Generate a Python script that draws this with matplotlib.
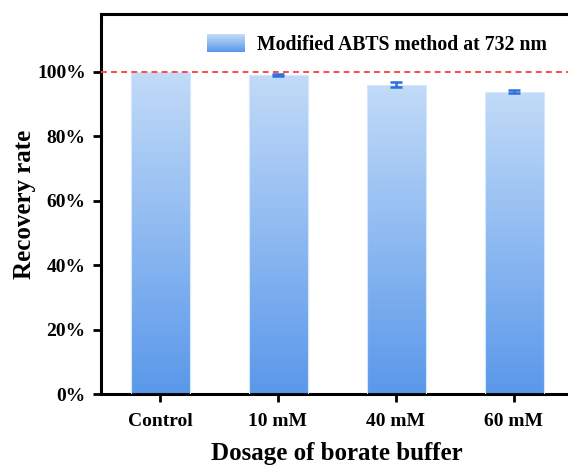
import numpy as np
import matplotlib
matplotlib.use("Agg")
import matplotlib.pyplot as plt
from matplotlib.colors import LinearSegmentedColormap
from matplotlib.patches import Rectangle
from matplotlib.legend_handler import HandlerBase

categories = ["Control", "10 mM", "40 mM", "60 mM"]
recovery = [100.0, 99.1, 96.0, 93.9]
errors = [0.0, 0.3, 0.8, 0.5]
yticks = [0, 20, 40, 60, 80, 100]
ytick_labels = ["0%", "20%", "40%", "60%", "80%", "100%"]
series_label = "Modified ABTS method at 732 nm"

top_color = "#C2DBF8"
bottom_color = "#5A98EA"
cmap = LinearSegmentedColormap.from_list("grad", [bottom_color, top_color])

plt.rcParams["font.family"] = ["Liberation Serif", "DejaVu Serif"]
plt.rcParams["font.weight"] = "bold"

fig = plt.figure(figsize=(5.68, 4.65), dpi=100)
ax = fig.add_axes([101/568, 71/465, 472/568, 380/465])

x = np.arange(len(categories))
width = 0.5
bars = ax.bar(x, recovery, width=width, facecolor="none", edgecolor="#D6E7FB",
              linewidth=0.8, zorder=3)
grad = np.linspace(0, 1, 256).reshape(-1, 1)
for b in bars:
    x0, y0 = b.get_x(), b.get_y()
    w, h = b.get_width(), b.get_height()
    im = ax.imshow(grad, cmap=cmap, origin="lower", aspect="auto",
                   extent=[x0, x0 + w, y0, y0 + h], zorder=2)
    im.set_clip_path(b)

ax.errorbar(x[1:], recovery[1:], yerr=errors[1:], fmt="none", ecolor="#2A6FDB",
            elinewidth=1.8, capsize=4, capthick=1.8, zorder=4)

ax.axhline(100, color="#FF4A4A", linestyle=(0, (3, 2.2)), linewidth=1.4, zorder=5)

ax.set_xlim(-0.5, 3.5)
ax.set_ylim(0, 118)
ax.set_yticks(yticks)
ax.set_yticklabels(ytick_labels)
ax.set_xticks(x)
ax.set_xticklabels(categories)

for s in ["left", "bottom", "top", "right"]:
    ax.spines[s].set_linewidth(2.2)
ax.tick_params(axis="both", direction="out", length=6, width=2, labelsize=14, pad=5)
for lab in ax.get_xticklabels() + ax.get_yticklabels():
    lab.set_fontweight("bold")
ax.tick_params(axis="x", pad=8)

ax.set_xlabel("Dosage of borate buffer", fontsize=18, fontweight="bold", labelpad=8)
ax.set_ylabel("Recovery rate", fontsize=18, fontweight="bold", labelpad=1)


class GradientHandler(HandlerBase):
    def create_artists(self, legend, orig_handle, xdescent, ydescent, width, height,
                       fontsize, trans):
        n = 40
        arts = []
        for i in range(n):
            frac = i / (n - 1)
            r = Rectangle((-xdescent, -ydescent + height * i / n), width, height / n + 0.3,
                          facecolor=cmap(frac), edgecolor="none", transform=trans)
            arts.append(r)
        return arts


proxy = Rectangle((0, 0), 1, 1)
ax.legend([proxy], [series_label], handler_map={Rectangle: GradientHandler()},
          loc="upper left", bbox_to_anchor=(0.2246, 0.947), frameon=False,
          prop={"size": 14.2, "weight": "bold"}, handlelength=1.95, handleheight=1.0,
          handletextpad=0.6, borderaxespad=0.0, borderpad=0.0)

fig.savefig("out.png", dpi=100)
